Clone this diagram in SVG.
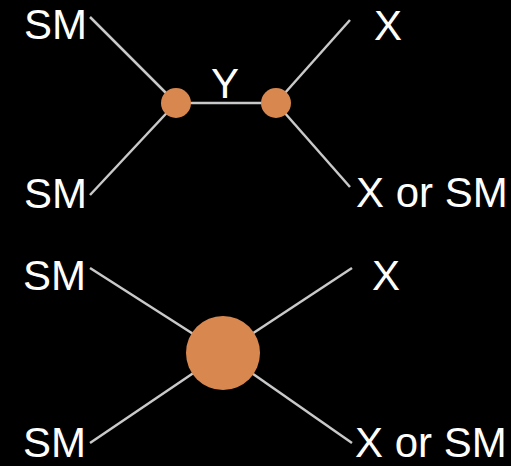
<svg xmlns="http://www.w3.org/2000/svg" width="511" height="466" viewBox="0 0 511 466">
<style>
.ln{stroke:#c9c9c9;stroke-width:2.5;fill:none}
.v{fill:#d8874f}
.t{fill:#ffffff;font-family:"Liberation Sans",Arial,sans-serif;font-size:42px}
</style>
<rect width="511" height="466" fill="#000"/>
<g id="connectors">
<line class="ln" x1="90" y1="17" x2="176" y2="103"/>
<line class="ln" x1="90" y1="195" x2="176" y2="103"/>
<line class="ln" x1="176" y1="103" x2="276" y2="103"/>
<line class="ln" x1="350" y1="20" x2="276" y2="103"/>
<line class="ln" x1="350" y1="187" x2="276" y2="103"/>
<line class="ln" x1="90" y1="268" x2="223" y2="353"/>
<line class="ln" x1="352" y1="268" x2="223" y2="353"/>
<line class="ln" x1="90" y1="443" x2="223" y2="353"/>
<line class="ln" x1="352" y1="443" x2="223" y2="353"/>
</g>
<g id="vertex-top-left"><circle class="v" cx="176" cy="103" r="15"/></g>
<g id="vertex-top-right"><circle class="v" cx="276" cy="103" r="15"/></g>
<g id="vertex-bottom"><circle class="v" cx="223" cy="353" r="37"/></g>
<g id="label-y"><text class="t" x="211" y="98">Y</text></g>
<g id="top-sm1"><text class="t" x="24" y="39">SM</text></g>
<g id="top-sm2"><text class="t" x="24" y="208">SM</text></g>
<g id="top-x"><text class="t" x="374" y="40">X</text></g>
<g id="top-xsm"><text class="t" x="356" y="207">X or SM</text></g>
<g id="bot-sm1"><text class="t" x="23" y="290">SM</text></g>
<g id="bot-sm2"><text class="t" x="23" y="457">SM</text></g>
<g id="bot-x"><text class="t" x="372" y="290">X</text></g>
<g id="bot-xsm"><text class="t" x="355" y="457">X or SM</text></g>
</svg>
